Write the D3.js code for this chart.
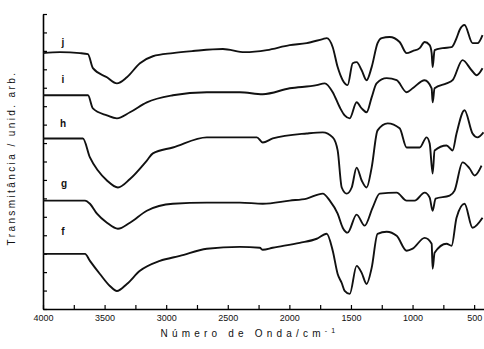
<!DOCTYPE html>
<html>
<head>
<meta charset="utf-8">
<script src="https://cdn.jsdelivr.net/npm/d3@7"></script>
<style>
  body { margin: 0; background: #fff; }
  svg { display: block; }
</style>
</head>
<body>
<div id="chart"></div>
<script>
const WIDTH = 484;
const HEIGHT = 349;
const margins = [43, 0, 14, 40]; // LEFT, RIGHT, TOP, BOTTOM

// espectros FTIR, [numero de onda, transmitancia (unid. arb.)]
const traceJ = [
    [4000, 13.88], [3862, 13.93], [3700, 13.88], [3635, 13.82], [3595, 13.06], [3481, 12.57],
    [3400, 12.24], [3319, 12.57], [3213, 13.33], [3108, 13.71], [2946, 13.88], [2783, 13.99],
    [2540, 14.10], [2362, 13.93], [2183, 14.04], [1997, 14.31], [1859, 14.42], [1729, 14.64],
    [1697, 14.69], [1648, 14.20], [1608, 13.12], [1567, 12.41], [1527, 12.14], [1486, 13.33],
    [1454, 13.39], [1413, 12.95], [1373, 12.41], [1332, 13.12], [1284, 14.42], [1251, 14.69],
    [1186, 14.75], [1105, 14.48], [1048, 13.88], [999, 13.99], [942, 14.15], [902, 14.48],
    [861, 14.31], [845, 13.88], [837, 13.12], [821, 14.04], [756, 14.15], [683, 14.20],
    [643, 14.69], [618, 15.13], [578, 15.40], [513, 14.42], [472, 14.42], [432, 14.86]
];
const traceI = [
    [4000, 11.59], [3635, 11.59], [3595, 10.88], [3481, 10.50], [3400, 10.34], [3294, 10.67],
    [3157, 11.21], [2946, 11.59], [2670, 11.76], [2402, 11.76], [2216, 11.65], [1997, 11.97],
    [1778, 12.14], [1713, 12.24], [1648, 11.76], [1591, 10.94], [1551, 10.50], [1510, 10.34],
    [1454, 11.21], [1413, 10.88], [1373, 10.67], [1332, 11.48], [1292, 12.24], [1210, 12.52],
    [1129, 12.41], [1048, 11.76], [999, 11.97], [902, 12.41], [845, 11.97], [837, 11.21],
    [821, 11.97], [724, 12.24], [675, 12.41], [594, 13.50], [521, 12.95], [480, 12.68],
    [432, 13.06]
];
const traceH = [
    [4000, 9.25], [3676, 9.25], [3619, 8.22], [3554, 7.51], [3481, 6.97], [3392, 6.59],
    [3294, 7.05], [3157, 8.05], [3108, 8.44], [2946, 8.76], [2670, 9.31],
    [2402, 9.31], [2264, 9.31], [2216, 9.03], [2135, 9.25], [1859, 9.52], [1729, 9.58],
    [1648, 9.31], [1608, 8.60], [1575, 6.59], [1535, 6.26], [1494, 6.59], [1454, 7.67],
    [1413, 6.97], [1373, 6.59], [1332, 7.67], [1284, 9.69], [1202, 10.07], [1105, 9.80],
    [1048, 8.76], [942, 8.76], [886, 9.31], [861, 8.98], [837, 7.35], [821, 8.60],
    [724, 8.87], [675, 8.60], [643, 9.52], [578, 10.78], [513, 9.52], [472, 9.31], [424, 9.58]
];
const traceG = [
    [4000, 5.88], [3659, 5.88], [3619, 5.71], [3562, 5.17], [3481, 4.68], [3392, 4.35],
    [3294, 4.68], [3157, 5.33], [2946, 5.71], [2670, 5.77], [2402, 5.77], [2216, 5.71],
    [1997, 5.88], [1859, 5.99], [1729, 6.26], [1672, 5.88], [1608, 5.17], [1567, 4.41],
    [1527, 4.14], [1454, 5.12], [1389, 4.52], [1324, 5.50], [1267, 6.26], [1129, 6.31],
    [1048, 5.88], [983, 5.88], [902, 6.31], [861, 6.04], [837, 5.33], [813, 5.99],
    [699, 6.15], [659, 6.42], [594, 7.95], [537, 7.62], [496, 7.24], [440, 7.78]
];
const traceF = [
    [4000, 2.99], [3659, 2.99], [3619, 2.61], [3538, 1.90], [3457, 1.25], [3400, 0.98],
    [3319, 1.36], [3213, 2.07], [3051, 2.61], [2889, 2.88], [2670, 3.27], [2402, 3.37],
    [2240, 3.32], [2216, 3.21], [2135, 3.32], [1916, 3.59], [1778, 3.81], [1697, 4.08],
    [1648, 3.16], [1608, 1.90], [1575, 1.41], [1551, 0.98], [1510, 0.82], [1454, 2.34],
    [1413, 1.96], [1373, 1.36], [1332, 2.23], [1284, 4.08], [1210, 4.19], [1129, 3.97],
    [1048, 3.16], [999, 3.27], [902, 3.86], [845, 3.54], [837, 2.18], [821, 3.05],
    [724, 3.54], [683, 3.43], [643, 4.95], [578, 5.71], [513, 4.41], [432, 4.95]
];

const series = [traceJ, traceI, traceH, traceG, traceF];
const seriesNames = ["j", "i", "h", "g", "f"];
const labelAnchors = [[3838, 14.26], [3838, 12.24], [3838, 9.85], [3830, 6.59], [3838, 4.03]];

const xTicks = d3.range(4000, 400, -250);
const xTickLabels = [4000, 3500, 3000, 2500, 2000, 1500, 1000, 500];
const yTicks = d3.range(0, 17, 1);

const svg = d3.select("#chart").append("svg")
    .attr("width", WIDTH)
    .attr("height", HEIGHT)
    .style("font-family", "'Liberation Sans', Arial, sans-serif");

const x = d3.scaleLinear()
    .domain([4000, 420])
    .range([margins[0], WIDTH - margins[1]]);

const y = d3.scaleLinear()
    .domain([0, 16])
    .range([HEIGHT - margins[3], margins[2]]);

// eje x (ticks hacia adentro)
const xAxis = svg.append("g")
    .attr("transform", `translate(0, ${HEIGHT - margins[3]})`)
    .call(d3.axisBottom(x)
        .tickValues(xTicks)
        .tickSizeInner(-4)
        .tickSizeOuter(0)
        .tickFormat(d => xTickLabels.includes(d) ? d : ""));
xAxis.select(".domain").attr("stroke-width", 1.6);
xAxis.selectAll(".tick line").attr("stroke-width", 1.2);
xAxis.selectAll(".tick text")
    .attr("y", 6)
    .attr("font-size", 9)
    .attr("fill", "#111");

// eje y
const yAxis = svg.append("g")
    .attr("transform", `translate(${margins[0]}, 0)`)
    .call(d3.axisLeft(y)
        .tickValues(yTicks)
        .tickSizeInner(-4)
        .tickSizeOuter(0)
        .tickFormat(""));
yAxis.select(".domain").attr("stroke-width", 1.6);
yAxis.selectAll(".tick line").attr("stroke-width", 1.2);

const line = d3.line()
    .curve(d3.curveMonotoneX)
    .x(d => x(d[0]))
    .y(d => y(d[1]));

svg.append("g")
    .selectAll("path")
    .data(series)
    .join("path")
    .attr("d", line)
    .attr("fill", "none")
    .attr("stroke", "#111")
    .attr("stroke-width", 1.9)
    .attr("stroke-linejoin", "round");

svg.append("g")
    .selectAll("text")
    .data(seriesNames)
    .join("text")
    .attr("x", (d, i) => x(labelAnchors[i][0]))
    .attr("y", (d, i) => y(labelAnchors[i][1]))
    .attr("text-anchor", "middle")
    .attr("font-size", 10)
    .attr("font-weight", "bold")
    .attr("fill", "#111")
    .text(d => d);

// titulos
svg.append("text")
    .attr("x", 250)
    .attr("y", 337)
    .attr("text-anchor", "middle")
    .attr("font-size", 10)
    .attr("letter-spacing", 4.2)
    .attr("fill", "#111")
    .html("Número de Onda/cm<tspan dy='-4' font-size='7'>-1</tspan>");

svg.append("text")
    .attr("transform", "translate(15, 158) rotate(-90)")
    .attr("text-anchor", "middle")
    .attr("font-size", 10)
    .attr("letter-spacing", 2.4)
    .attr("fill", "#111")
    .text("Transmitância / unid. arb.");
</script>
</body>
</html>
